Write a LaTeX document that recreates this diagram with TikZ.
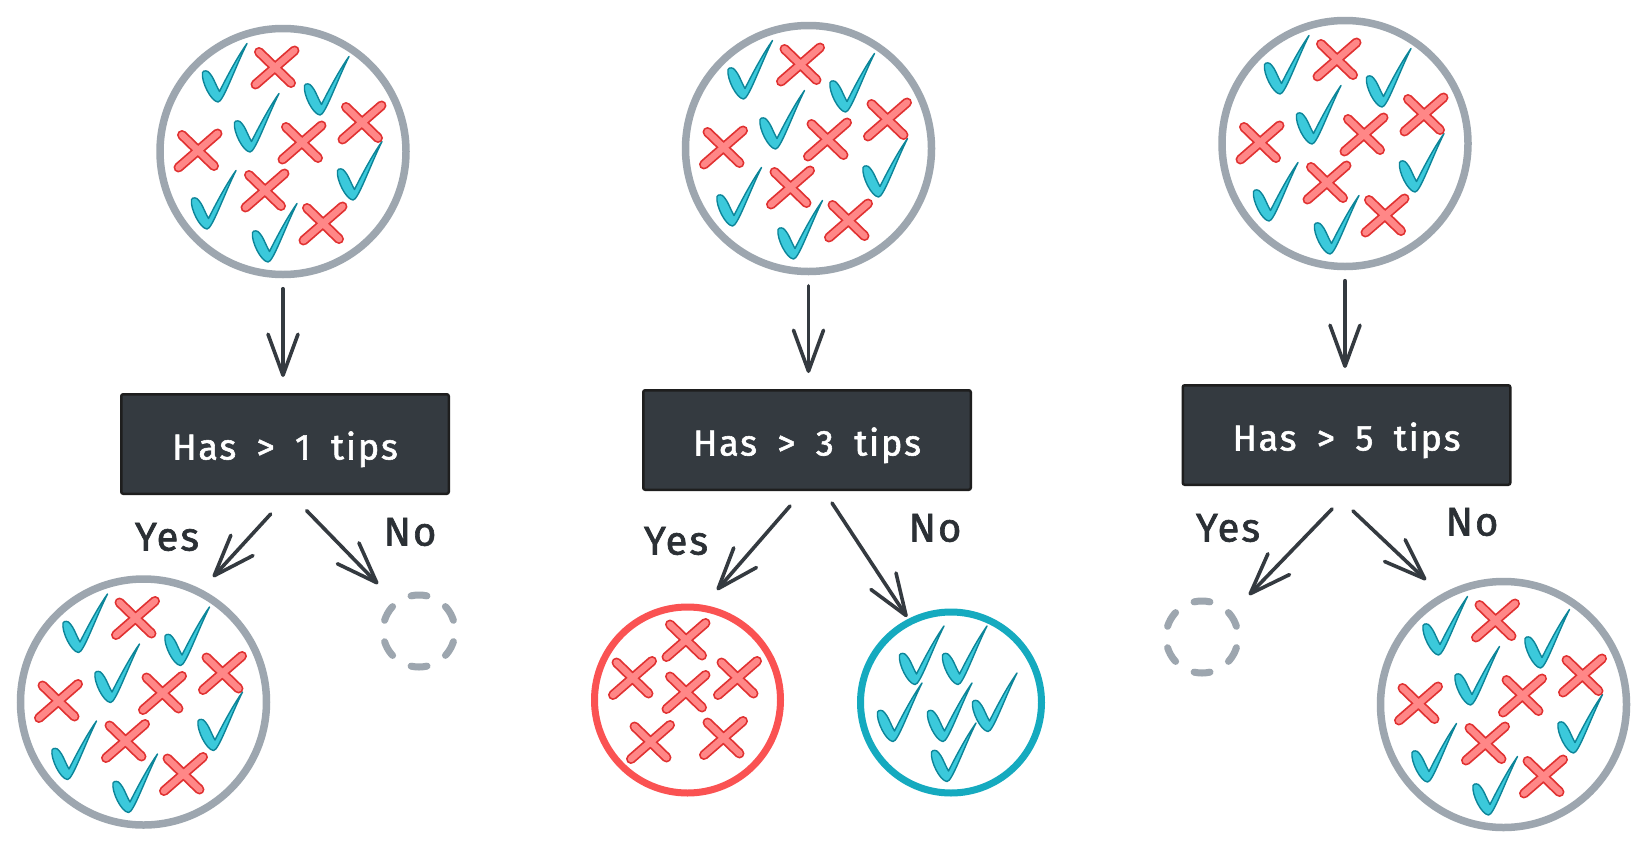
\documentclass[tikz,border=0pt]{standalone}
\usepackage{fontspec}
\setmainfont{Fira Sans}[LetterSpace=5,WordSpace=1.8]
\newfontfamily\hfont{Fira Sans}[LetterSpace=5,WordSpace=1.8,FakeBold=1.6]
\usetikzlibrary{arrows.meta,calc}
\definecolor{gcirc}{HTML}{9DA6AF}
\definecolor{rcirc}{HTML}{FA5252}
\definecolor{ccirc}{HTML}{15AABF}
\definecolor{chkfill}{HTML}{3BC9DB}
\definecolor{chkline}{HTML}{0C8599}
\definecolor{crsfill}{HTML}{FF8787}
\definecolor{crsline}{HTML}{E03131}
\definecolor{boxfill}{HTML}{343A40}
\definecolor{boxline}{HTML}{1E1E1E}
\definecolor{arrc}{HTML}{343A40}
\definecolor{labc}{HTML}{2B3035}
\begin{document}
\begin{tikzpicture}[x=1pt,y=-1pt,
  chk/.pic={
    \filldraw[fill=chkfill,draw=chkline,line width=1.4pt,line join=round]
      (-15.5,-28) .. controls (-17,-19) and (-7,1) .. (0,1.5)
      .. controls (5,2) and (17,-33) .. (29,-57)
      .. controls (19,-43) and (8,-22) .. (1.5,-9)
      .. controls (-2,-15) and (-5,-24) .. (-8.5,-27.5)
      .. controls (-10,-30) and (-14.5,-30.5) .. cycle;
  },
  crs/.pic={
    \draw[crsline,line width=10pt,line cap=round] (-16,-15.5) -- (16,15.5) (19.5,-17) -- (-19.5,17);
    \draw[crsfill,line width=6.5pt,line cap=round] (-16,-15.5) -- (16,15.5) (19.5,-17) -- (-19.5,17);
  },
  mix/.pic={
    \foreach \a/\b in {-65/-51,37/-38,-33/-1,70/47,-76/76,-15/109} \pic at (\a,\b) {chk};
    \foreach \a/\b in {-8/-84,79/-29,-85/-1,19/-9,-18/39,40/72} \pic at (\a,\b) {crs};
  },
  redset/.pic={
    \foreach \a/\b in {-1.5/-60,-55/-22,-1.5/-8,50/-22,-37/42,36/38} \pic at (\a,\b) {crs};
  },
  cyanset/.pic={
    \foreach \a/\b in {-36/-19.5,7/-19.5,-58/37.5,-8/37.5,37/27.5,-4/77.5} \pic at (\a,\b) {chk};
  },
  bigc/.style={circle,draw=gcirc,line width=7.5pt,minimum size=246pt,inner sep=0pt},
  dashc/.style={circle,draw=gcirc,line width=7pt,minimum size=72pt,inner sep=0pt,
    line cap=round,dash pattern=on 16pt off 21.7pt,dash phase=26.85pt},
  qbox/.style={draw=boxline,fill=boxfill,line width=2.5pt,rounded corners=2pt,
    minimum width=327.5pt,minimum height=99.5pt,inner sep=0pt,text=white,
    font=\hfont\fontsize{36}{40}\selectfont,text height=31pt,text depth=0pt},
  lbl/.style={text=labc,font=\hfont\fontsize{40}{44}\selectfont,inner sep=0pt},
  arr/.style={draw=arrc,line width=3.6pt,line cap=round,
    -{Straight Barb[length=41pt,width=30pt,round]}}
]
\fill[white] (0,0) rectangle (1647,849);
\useasboundingbox (0,0) rectangle (1647,849);

% top circles
\node[bigc] (t1) at (283,151.5) {};
\node[bigc] (t2) at (808.5,148.5) {};
\node[bigc] (t3) at (1345,143.5) {};
\pic at (t1) {mix};
\pic at (t2) {mix};
\pic at (t3) {mix};

% boxes
\node[qbox] (b1) at (285,444) {Has > 1 tips};
\node[qbox] (b2) at (807,440) {Has > 3 tips};
\node[qbox] (b3) at (1346.5,435) {Has > 5 tips};

% bottom circles
\node[bigc] (bl) at (143.5,702) {};
\pic at (bl) {mix};
\node[dashc] (d1) at (419,631) {};
\node[circle,draw=rcirc,line width=7pt,minimum size=186pt,inner sep=0pt] (rc) at (687.5,700) {};
\pic at (rc) {redset};
\node[circle,draw=ccirc,line width=7pt,minimum size=181pt,inner sep=0pt] (cc) at (951,702.5) {};
\pic at (cc) {cyanset};
\node[dashc] (d2) at (1202,637) {};
\node[bigc] (br) at (1503.5,704.5) {};
\pic at (br) {mix};

% labels
\node[lbl] (y1) at (167,537) {Yes};
\node[lbl] (n1) at (410,532) {No};
\node[lbl] (y2) at (676,541) {Yes};
\node[lbl] (n2) at (935,528) {No};
\node[lbl] (y3) at (1228,528) {Yes};
\node[lbl] (n3) at (1472,522) {No};

% top arrows
\draw[arr,shorten <=10.5pt,shorten >=16pt] (t1.south) -- (t1.south |- b1.north);
\draw[arr,shorten <=10.5pt,shorten >=16pt] (t2.south) -- (t2.south |- b2.north);
\draw[arr,shorten <=10.5pt,shorten >=16pt] (t3.south) -- (t3.south |- b3.north);

% branch arrows
\draw[arr] ($(b1.south)+(-14.3,19)$) -- ($(bl)+(69.5,-125)$);
\draw[arr] ($(b1.south)+(21.7,15.7)$) -- ($(d1)+(-41,-47)$);
\draw[arr] ($(b2.south)+(-17,15)$) -- ($(rc)+(29.5,-110)$);
\draw[arr] ($(b2.south)+(25,12)$) -- ($(cc)+(-44,-85.5)$);
\draw[arr] ($(b3.south)+(-14.5,23)$) -- ($(d2)+(47,-42)$);
\draw[arr] ($(b3.south)+(6.5,25)$) -- ($(br)+(-77.5,-124.5)$);
\end{tikzpicture}
\end{document}
